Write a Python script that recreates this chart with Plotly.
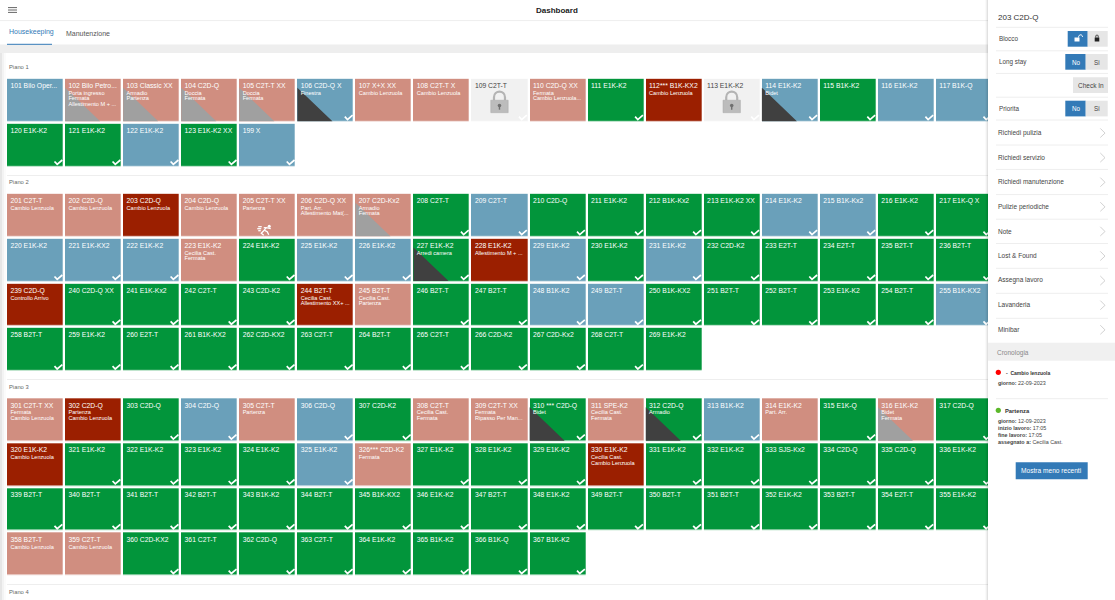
# === Step 1: Import Required Libraries ===
import plotly.graph_objects as go

# === Step 2: Room Data (one list per row of tiles) ===
# status letters: B clean, S to do, G checked, R urgent, L locked
floor1_row1 = ["101 Bilo Oper...", "102 Bilo Petro...", "103 Classic XX", "104 C2D-Q", "105 C2T-T XX", "106 C2D-Q X", "107 X+X XX", "108 C2T-T X", "109 C2T-T", "110 C2D-Q XX", "111 E1K-K2", "112*** B1K-KX2", "113 E1K-K2", "114 E1K-K2", "115 B1K-K2", "116 E1K-K2", "117 B1K-Q"]
floor1_row2 = ["120 E1K-K2", "121 E1K-K2", "122 E1K-K2", "123 E1K-K2 XX", "199 X"]
floor2_row1 = ["201 C2T-T", "202 C2D-Q", "203 C2D-Q", "204 C2D-Q", "205 C2T-T XX", "206 C2D-Q XX", "207 C2D-Kx2", "208 C2T-T", "209 C2T-T", "210 C2D-Q", "211 E1K-K2", "212 B1K-Kx2", "213 E1K-K2 XX", "214 E1K-K2", "215 B1K-Kx2", "216 E1K-K2", "217 E1K-Q X"]
floor2_row2 = ["220 E1K-K2", "221 E1K-KX2", "222 E1K-K2", "223 E1K-K2", "224 E1K-K2", "225 E1K-K2", "226 E1K-K2", "227 E1K-K2", "228 E1K-K2", "229 E1K-K2", "230 E1K-K2", "231 E1K-K2", "232 C2D-K2", "233 E2T-T", "234 E2T-T", "235 B2T-T", "236 B2T-T"]
floor2_row3 = ["239 C2D-Q", "240 C2D-Q XX", "241 E1K-Kx2", "242 C2T-T", "243 C2D-K2", "244 B2T-T", "245 B2T-T", "246 B2T-T", "247 B2T-T", "248 B1K-K2", "249 B2T-T", "250 B1K-KX2", "251 B2T-T", "252 B2T-T", "253 E1K-K2", "254 B2T-T", "255 B1K-KX2"]
floor2_row4 = ["258 B2T-T", "259 E1K-K2", "260 E2T-T", "261 B1K-KX2", "262 C2D-KX2", "263 C2T-T", "264 B2T-T", "265 C2T-T", "266 C2D-K2", "267 C2D-Kx2", "268 C2T-T", "269 E1K-K2"]
floor3_row1 = ["301 C2T-T XX", "302 C2D-Q", "303 C2D-Q", "304 C2D-Q", "305 C2T-T", "306 C2D-Q", "307 C2D-K2", "308 C2T-T", "309 C2T-T XX", "310 *** C2D-Q", "311 SPE-K2", "312 C2D-Q", "313 B1K-K2", "314 E1K-K2", "315 E1K-Q", "316 E1K-K2", "317 C2D-Q"]
floor3_row2 = ["320 E1K-K2", "321 E1K-K2", "322 E1K-K2", "323 E1K-K2", "324 E1K-K2", "325 E1K-K2", "326*** C2D-K2", "327 E1K-K2", "328 E1K-K2", "329 E1K-K2", "330 E1K-K2", "331 E1K-K2", "332 E1K-K2", "333 SJS-Kx2", "334 C2D-Q", "335 C2D-Q", "336 E1K-K2"]
floor3_row3 = ["339 B2T-T", "340 B2T-T", "341 B2T-T", "342 B2T-T", "343 B1K-K2", "344 B2T-T", "345 B1K-KX2", "346 E1K-K2", "347 B2T-T", "348 E1K-K2", "349 B2T-T", "350 B2T-T", "351 B2T-T", "352 E1K-K2", "353 B2T-T", "354 E2T-T", "355 E1K-K2"]
floor3_row4 = ["358 B2T-T", "359 C2T-T", "360 C2D-KX2", "361 C2T-T", "362 C2D-Q", "363 C2T-T", "364 E1K-K2", "365 B1K-K2", "366 B1K-Q", "367 B1K-K2"]

floor1_status = ["BSSSSBSSLSGRLBGBB", "GGBGB"]
floor2_status = ["SSRSSSSGBGGGGBBGG", "BBBSGBBGRBGBGGGGG", "RGGGGRSGGBBGGGGGB", "GGGGGGGGGGGG"]
floor3_status = ["SRGBSBGSSGSGBSGSG", "RGGGGBSGGGRGGGGGG", "GGGGGGGGGGGGGGGGG", "SSGGGGGGGG"]

# notes written on the tiles, by room number
notes = {
    "102": ["Porta ingresso", "Fermata", "Allestimento M + ..."], "103": ["Armadio", "Partenza"],
    "104": ["Doccia", "Fermata"], "105": ["Doccia", "Fermata"], "106": ["Finestra"],
    "107": ["Cambio Lenzuola"], "108": ["Cambio Lenzuola"], "110": ["Fermata", "Cambio Lenzuola..."],
    "112": ["Cambio Lenzuola"], "114": ["Bidet"],
    "201": ["Cambio Lenzuola"], "202": ["Cambio Lenzuola"], "203": ["Cambio Lenzuola"],
    "204": ["Cambio Lenzuola"], "205": ["Partenza"], "206": ["Part. Arr.", "Allestimento Mat(..."],
    "207": ["Armadio", "Fermata"], "223": ["Cecilia Cast.", "Fermata"], "227": ["Arredi camera"],
    "228": ["Allestimento M + ..."], "239": ["Controllo Arrivo"],
    "244": ["Cecilia Cast.", "Allestimento XX+ ..."], "245": ["Cecilia Cast.", "Partenza"],
    "301": ["Fermata", "Cambio Lenzuola"], "302": ["Partenza", "Cambio Lenzuola"], "305": ["Partenza"],
    "308": ["Cecilia Cast.", "Fermata"], "309": ["Fermata", "Ripasso Per Man..."], "310": ["Bidet"],
    "311": ["Cecilia Cast.", "Fermata"], "312": ["Armadio"], "314": ["Part. Arr."],
    "316": ["Bidet", "Fermata"], "320": ["Cambio Lenzuola"], "326": ["Fermata"],
    "330": ["Cecilia Cast.", "Cambio Lenzuola"], "358": ["Cambio Lenzuola"], "359": ["Cambio Lenzuola"],
}
grey_corner = ["102", "103", "104", "105", "207", "316"]
dark_corner = ["106", "114", "227", "310", "312"]
no_check = ["101", "269"]

floor_names = ["Piano 1", "Piano 2", "Piano 3", "Piano 4"]
menu_items = ["Richiedi pulizia", "Richiedi servizio", "Richiedi manutenzione", "Pulizie periodiche", "Note",
              "Lost & Found", "Assegna lavoro", "Lavanderia", "Minibar"]
history_lines = ["<b>giorno:</b> 12-09-2023", "<b>inizio lavoro:</b> 17:05", "<b>fine lavoro:</b> 17:05", "<b>assegnato a:</b> Cecilia Cast."]

# === Step 3: Page Geometry and Colours ===
PITCH_X = 58.06
PITCH_Y = 44.8
FONT = "Liberation Sans"
codes = {"B": 0, "S": 1, "G": 2, "R": 3, "L": 4}
scale = [[0, "#6aa0ba"], [0.2, "#6aa0ba"], [0.2, "#d08e80"], [0.4, "#d08e80"], [0.4, "#02953b"], [0.6, "#02953b"],
         [0.6, "#9b1f00"], [0.8, "#9b1f00"], [0.8, "#f1f1f1"], [1, "#f1f1f1"]]

floors = [
    ([floor1_row1, floor1_row2], floor1_status, 100.2),
    ([floor2_row1, floor2_row2, floor2_row3, floor2_row4], floor2_status, 215.2),
    ([floor3_row1, floor3_row2, floor3_row3, floor3_row4], floor3_status, 419.7),
]

fig = go.Figure()

# === Step 4: Tiles ===
title_x, title_y, title_c = [], [], []
title_t = []
note_x, note_y, note_t = [], [], []
check_x, check_y = [], []
grey_x, grey_y, dark_x, dark_y = [], [], [], []
locks = []
runner = None

for rows, status, first_y in floors:
    centers = [first_y + PITCH_Y * r for r in range(len(rows))]
    z = []
    for r, row in enumerate(rows):
        z.append([codes[s] for s in status[r]] + [None] * (17 - len(row)))
        for c, room in enumerate(row):
            num = room[:3]
            top = centers[r] - 21
            title_x.append(c - 24.6 / PITCH_X)
            title_y.append(top + 7.2)
            title_t.append(room)
            title_c.append("#444444" if status[r][c] == "L" else "#ffffff")
            for n, line in enumerate(notes.get(num, [])):
                note_x.append(c - 24.6 / PITCH_X)
                note_y.append(top + 14.4 + 5.35 * n)
                note_t.append(line)
            if status[r][c] in "BGL" and num not in no_check:
                check_x += [c + 19.5 / PITCH_X, c + 22.2 / PITCH_X, c + 27.3 / PITCH_X, None]
                check_y += [top + 37.5, top + 40.4, top + 36, None]
            if num in grey_corner or num in dark_corner:
                tri_x = [c - 27.9 / PITCH_X, c - 27.9 / PITCH_X, c + 7.1 / PITCH_X, None]
                tri_y = [top + 8.5, top + 42, top + 42, None]
                if num in grey_corner:
                    grey_x += tri_x
                    grey_y += tri_y
                else:
                    dark_x += tri_x
                    dark_y += tri_y
            if status[r][c] == "L":
                locks.append((c, top))
            if num == "205":
                runner = (c, top)
    fig.add_trace(go.Heatmap(z=z, x=list(range(17)), y=centers, xaxis="x2", yaxis="y", zmin=-0.5, zmax=4.5,
                             colorscale=scale, showscale=False, xgap=2.3, ygap=2.7, hoverinfo="skip"))

fig.add_trace(go.Scatter(x=grey_x, y=grey_y, xaxis="x2", yaxis="y", mode="none", fill="toself", fillcolor="#a0a0a0", hoverinfo="skip"))
fig.add_trace(go.Scatter(x=dark_x, y=dark_y, xaxis="x2", yaxis="y", mode="none", fill="toself", fillcolor="#404040", hoverinfo="skip"))
fig.add_trace(go.Scatter(x=check_x, y=check_y, xaxis="x2", yaxis="y", mode="lines", line=dict(color="#ffffff", width=1.7), hoverinfo="skip"))
fig.add_trace(go.Scatter(x=title_x, y=title_y, xaxis="x2", yaxis="y", mode="text", text=title_t, textposition="middle right",
                         textfont=dict(family=FONT, size=6.8, color=title_c), hoverinfo="skip"))
fig.add_trace(go.Scatter(x=note_x, y=note_y, xaxis="x2", yaxis="y", mode="text", text=note_t, textposition="middle right",
                         textfont=dict(family=FONT, size=5.6, color="#ffffff"), hoverinfo="skip"))

# padlock on the locked rooms
for c, top in locks:
    w = 8.7 / PITCH_X
    s = 5.5 / PITCH_X
    fig.add_shape(type="path", xref="x2", yref="y", layer="above", line=dict(color="#b4b4b4", width=2.2),
                  path=f"M {c - s} {top + 21} L {c - s} {top + 18} C {c - s} {top + 10.5} {c + s} {top + 10.5} {c + s} {top + 18} L {c + s} {top + 21}")
    fig.add_shape(type="rect", xref="x2", yref="y", layer="above", x0=c - w, x1=c + w, y0=top + 21, y1=top + 33.5,
                  fillcolor="#bcbcbc", line=dict(color="#a8a8a8", width=0.5))
    fig.add_shape(type="circle", xref="x2", yref="y", layer="above", x0=c - 1.8 / PITCH_X, x1=c + 1.8 / PITCH_X, y0=top + 24.5, y1=top + 28,
                  fillcolor="#707070", line=dict(width=0))
    fig.add_shape(type="rect", xref="x2", yref="y", layer="above", x0=c - 0.7 / PITCH_X, x1=c + 0.7 / PITCH_X, y0=top + 27, y1=top + 30.5,
                  fillcolor="#707070", line=dict(width=0))

# running man on the departure tile
c, top = runner
man = [(-3, 36), (-6, 39), (-3.5, 41)], [(-3, 36), (-1, 33.5), (3.5, 34.5)], [(-1, 33.5), (-3.5, 33.5)], [(-3, 36), (0, 37.5), (1.5, 40.5)], \
      [(-9, 32.5), (-5.5, 32.5)], [(-10, 34.5), (-6, 34.5)], [(-9, 36.5), (-6.5, 36.5)]
man_x, man_y = [], []
for part in man:
    man_x += [c + p[0] / PITCH_X for p in part] + [None]
    man_y += [top + p[1] for p in part] + [None]
fig.add_trace(go.Scatter(x=man_x, y=man_y, xaxis="x2", yaxis="y", mode="lines", line=dict(color="#ffffff", width=1.3), hoverinfo="skip"))
fig.add_trace(go.Scatter(x=[c + 2 / PITCH_X], y=[top + 32], xaxis="x2", yaxis="y", mode="markers", marker=dict(color="#ffffff", size=3), hoverinfo="skip"))

# === Step 5: Page Header and Floor Titles ===
fig.add_shape(type="line", x0=0, x1=988, y0=20.6, y1=20.6, line=dict(color="#eeeeee", width=1), layer="below")
fig.add_shape(type="rect", x0=0, x1=988, y0=44.5, y1=53, fillcolor="#eeeeee", line=dict(width=0), layer="below")
fig.add_shape(type="line", x0=7, x1=52, y0=44.3, y1=44.3, line=dict(color="#337ab7", width=1), layer="below")
for y in [7.6, 10, 12.4]:
    fig.add_shape(type="line", x0=8, x1=17, y0=y, y1=y, line=dict(color="#666666", width=1), layer="below")
for y in [175.5, 379.5, 584.5]:
    fig.add_shape(type="line", x0=7, x1=988, y0=y, y1=y, line=dict(color="#eeeeee", width=1), layer="below")

fig.add_annotation(x=557, y=10, text="<b>Dashboard</b>", showarrow=False, font=dict(family=FONT, size=8, color="#222222"))
fig.add_annotation(x=7, y=32.3, text="Housekeeping", showarrow=False, xanchor="left", font=dict(family=FONT, size=7, color="#337ab7"))
fig.add_annotation(x=64, y=33, text="Manutenzione", showarrow=False, xanchor="left", font=dict(family=FONT, size=7, color="#555555"))
for name, y in zip(floor_names, [67, 182, 386.8, 591.7]):
    fig.add_annotation(x=7, y=y, text=name, showarrow=False, xanchor="left", font=dict(family=FONT, size=5.8, color="#666666"))

# === Step 6: Side Panel ===
for i, alpha in enumerate([0.02, 0.04, 0.06]):
    fig.add_shape(type="rect", x0=985 + i, x1=988, y0=0, y1=600, fillcolor=f"rgba(0,0,0,{alpha})", line=dict(width=0), layer="above")
for i, alpha in enumerate([0.05, 0.03, 0.015]):
    fig.add_shape(type="rect", x0=0, x1=2 + 2 * i, y0=53, y1=600, fillcolor=f"rgba(0,0,0,{alpha})", line=dict(width=0), layer="below")

for y in [27.3, 50.8, 73.4, 97.2, 120, 145, 169.4, 194.6, 219.2, 243.5, 268.3, 293.3, 318.3, 398.7]:
    fig.add_shape(type="line", x0=996, x1=1108, y0=y, y1=y, line=dict(color="#eeeeee", width=1), layer="below")
fig.add_shape(type="rect", x0=988, x1=1115, y0=342.7, y1=360.7, fillcolor="#f0f0f0", line=dict(width=0), layer="below")

fig.add_annotation(x=996, y=17, text="203 C2D-Q", showarrow=False, xanchor="left", font=dict(family=FONT, size=8, color="#333333"))
for text, y in [("Blocco", 38.7), ("Long stay", 62), ("Priorita", 108.7)]:
    fig.add_annotation(x=996.7, y=y, text=text, showarrow=False, xanchor="left", font=dict(family=FONT, size=6.3, color="#444444"))

# toggle buttons
fig.add_shape(type="rect", x0=1067.7, x1=1087.7, y0=31, y1=46.7, fillcolor="#337ab7", line=dict(width=0), layer="below")
fig.add_shape(type="rect", x0=1087.7, x1=1107.7, y0=31, y1=46.7, fillcolor="#e6e6e6", line=dict(width=0), layer="below")
for y0 in [54, 100.7]:
    fig.add_shape(type="rect", x0=1065.3, x1=1085.7, y0=y0, y1=y0 + 15.7, fillcolor="#337ab7", line=dict(width=0), layer="below")
    fig.add_shape(type="rect", x0=1085.7, x1=1107.7, y0=y0, y1=y0 + 15.7, fillcolor="#e6e6e6", line=dict(width=0), layer="below")
    fig.add_annotation(x=1076, y=y0 + 8, text="No", showarrow=False, font=dict(family=FONT, size=6.3, color="#ffffff"))
    fig.add_annotation(x=1097, y=y0 + 8, text="Si", showarrow=False, font=dict(family=FONT, size=6.3, color="#444444"))
fig.add_shape(type="rect", x0=1073, x1=1108, y0=77.3, y1=93, fillcolor="#e6e6e6", line=dict(width=0), layer="below")
fig.add_annotation(x=1090.5, y=85, text="Check In", showarrow=False, font=dict(family=FONT, size=6.5, color="#444444"))

# padlock icons of the Blocco toggle
fig.add_shape(type="rect", x0=1074.5, x1=1079.5, y0=37.5, y1=41.5, fillcolor="#ffffff", line=dict(width=0), layer="above")
fig.add_shape(type="path", path="M 1078.5 37.5 C 1078.5 34 1082.5 34 1082.5 37", line=dict(color="#ffffff", width=1), layer="above")
fig.add_shape(type="rect", x0=1094.7, x1=1099.3, y0=37.5, y1=41.5, fillcolor="#222222", line=dict(width=0), layer="above")
fig.add_shape(type="path", path="M 1095.7 37.5 C 1095.7 34 1098.3 34 1098.3 37.5", line=dict(color="#222222", width=0.9), layer="above")

# menu rows with chevrons
chev_x, chev_y = [], []
for i, item in enumerate(menu_items):
    y = 132.7 + 24.6 * i
    fig.add_annotation(x=996, y=y, text=item, showarrow=False, xanchor="left", font=dict(family=FONT, size=6.5, color="#444444"))
    chev_x += [1100.3, 1105, 1100.3, None]
    chev_y += [y - 4.3, y + 0.4, y + 4.8, None]
fig.add_trace(go.Scatter(x=chev_x, y=chev_y, mode="lines", line=dict(color="#cccccc", width=0.9), hoverinfo="skip"))

# history
fig.add_annotation(x=995, y=353, text="Cronologia", showarrow=False, xanchor="left", font=dict(family=FONT, size=6.5, color="#888888"))
fig.add_trace(go.Scatter(x=[998.3, 998.3], y=[372.3, 410.3], mode="markers", marker=dict(color=["#ff0000", "#5cb82a"], size=5.2), hoverinfo="skip"))
fig.add_annotation(x=1004, y=373, text="<b>-  Cambio lenzuola</b>", showarrow=False, xanchor="left", font=dict(family=FONT, size=5, color="#333333"))
fig.add_annotation(x=995.7, y=383.3, text="<b>giorno:</b> 22-09-2023", showarrow=False, xanchor="left", font=dict(family=FONT, size=5.4, color="#444444"))
fig.add_annotation(x=1003, y=410.5, text="<b>Partenza</b>", showarrow=False, xanchor="left", font=dict(family=FONT, size=5.8, color="#333333"))
for i, line in enumerate(history_lines):
    fig.add_annotation(x=995.7, y=420.7 + 7.1 * i, text=line, showarrow=False, xanchor="left", font=dict(family=FONT, size=5.4, color="#444444"))
fig.add_shape(type="rect", x0=1015.7, x1=1087.7, y0=462.3, y1=479.3, fillcolor="#337ab7", line=dict(width=0), layer="below")
fig.add_annotation(x=1051.7, y=470.3, text="Mostra meno recenti", showarrow=False, font=dict(family=FONT, size=6.6, color="#ffffff"))

# === Step 7: Layout and Output ===
fig.update_layout(
    width=1115, height=600, margin=dict(l=0, r=0, t=0, b=0), showlegend=False,
    paper_bgcolor="#ffffff", plot_bgcolor="rgba(0,0,0,0)",
    xaxis=dict(range=[0, 1115], domain=[0, 1], visible=False),
    xaxis2=dict(range=[-35 / PITCH_X, (988 - 35) / PITCH_X], domain=[0, 988 / 1115], anchor="y", visible=False),
    yaxis=dict(range=[600, 0], domain=[0, 1], visible=False),
)
fig.write_html("out.html", config={"displayModeBar": False}, post_script="document.body.style.margin='0';")
